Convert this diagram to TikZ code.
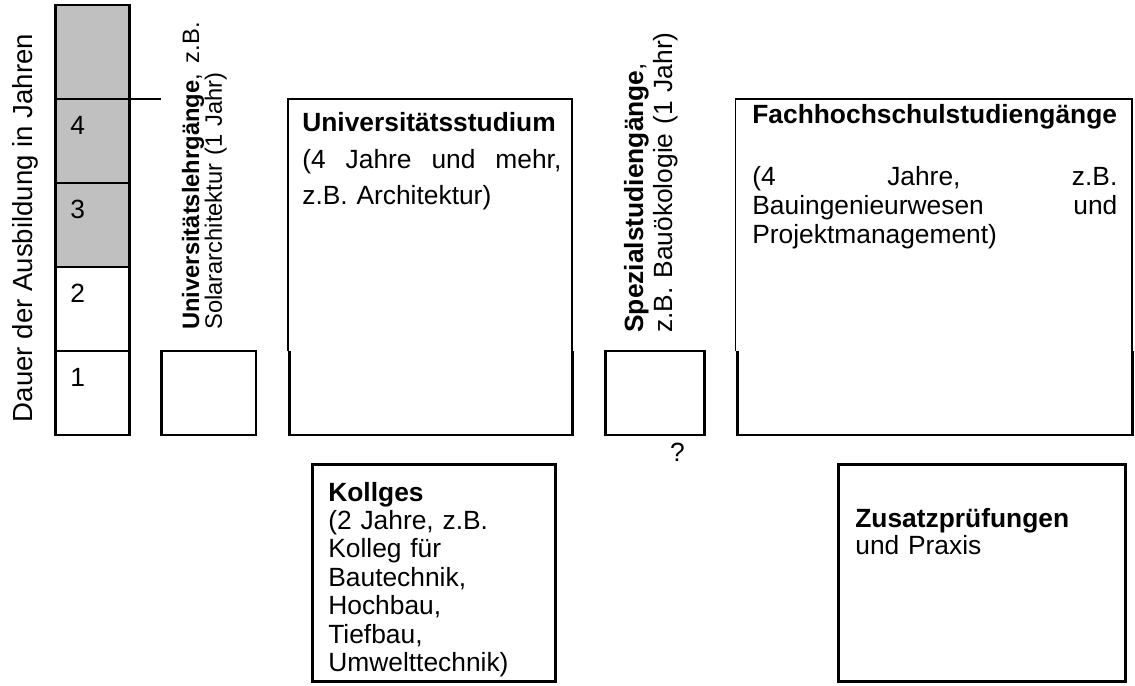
\documentclass[tikz,border=0pt]{standalone}
\usepackage{fontspec}
\setmainfont{Liberation Sans}
\usepackage{xcolor}
\usepackage{tikz}
\definecolor{jahrgrau}{RGB}{192,192,192}

\begin{document}
\begin{tikzpicture}[
  thickline/.style={line width=1.7pt},
  thinline/.style={line width=0.9pt},
  txt/.style={inner sep=0pt, font=\fontsize{15}{17}\selectfont}
]
\useasboundingbox (0,0) rectangle (22.7,13.7);
% Jahresspalte
\filldraw[fill=jahrgrau, thickline] (1.11,8.36) rectangle (2.59,13.6);
\draw[thickline] (1.11,5.0) rectangle (2.59,8.36);
\foreach \y in {6.68,8.36,10.04,11.72} \draw[thickline] (1.11,\y) -- (2.59,\y);
\foreach \n in {1,...,4} \node[txt, anchor=base west] (j\n) at (1.40,{5.0+1.68*\n-0.70}) {\n};
\coordinate (jtop) at (2.59,11.72);
\coordinate (jend) at (3.21,11.72);
\draw[thickline] (jtop) -- (jend);
\node[txt, rotate=90, anchor=base, font=\fontsize{15.7}{19}\selectfont] (dauer) at (0.64,9.14) {Dauer der Ausbildung in Jahren};
% Universitaetslehrgaenge
\draw[thickline] (3.23,5.0) rectangle (5.12,6.68);
\node[txt, rotate=90, anchor=base west, text width=6.15cm, align=left,
  font=\fontsize{13.5}{13}\selectfont] (ulg) at (3.98,7.1)
  {\setlength{\lineskiplimit}{-10pt}\textbf{Universitätslehrgänge}, \hfill z.B.\\ Solararchitektur (1 Jahr)};
% Universitaetsstudium
\draw[thinline] (5.76,6.68) -- (5.76,11.72) -- (11.44,11.72) -- (11.44,6.68);
\draw[thickline] (5.79,6.68) -- (5.79,5.0) -- (11.44,5.0) -- (11.44,6.68);
\node[txt, anchor=base west, text width=5.18cm, align=left,
  font=\fontsize{15}{20.5}\selectfont] (unistud) at (6.04,11.06)
  {\textbf{Universitätsstudium}\\ (4 \hfill Jahre \hfill und \hfill mehr,\\ z.B. Architektur)};
% Spezialstudiengaenge
\draw[thickline] (12.1,5.0) rectangle (14.08,6.68);
\node[txt, rotate=90, anchor=base west, text width=6.3cm, align=left,
  font=\fontsize{15}{17}\selectfont] (spez) at (12.86,7.04)
  {\textbf{Spezialstudiengänge},\\ z.B. Bauökologie (1 Jahr)};
\node[txt] (frage) at (13.55,4.66) {?};
% Fachhochschulstudiengaenge
\draw[thinline] (14.71,6.68) -- (14.71,11.72) -- (22.64,11.72) -- (22.64,6.68);
\draw[thickline] (14.74,6.68) -- (14.74,5.0) -- (22.64,5.0) -- (22.64,6.68);
\node[txt, anchor=base west, text width=7.3cm, align=left,
  font=\fontsize{15}{16.5}\selectfont] (fhs) at (15.04,11.24)
  {\textbf{Fachhochschulstudiengänge}\\[0.68cm] (4 \hfill Jahre, \hfill z.B.\\ Bauingenieurwesen \hfill und\\ Projektmanagement)};
% Kollges
\draw[thickline] (6.24,0.08) rectangle (11.1,4.42);
\node[txt, anchor=base west, text width=4.4cm, align=left,
  font=\fontsize{15}{16.2}\selectfont] (kolleg) at (6.56,3.68)
  {\textbf{Kollges}\\ (2 Jahre, z.B.\\ Kolleg für\\ Bautechnik,\\ Hochbau,\\ Tiefbau,\\ Umwelttechnik)};
% Zusatzpruefungen
\draw[thickline] (16.76,0.08) rectangle (22.5,4.42);
\node[txt, anchor=base west, text width=5.2cm, align=left,
  font=\fontsize{15}{15.9}\selectfont] (zusatz) at (17.1,3.16)
  {\textbf{Zusatzprüfungen}\\ und Praxis};
\end{tikzpicture}
\end{document}
